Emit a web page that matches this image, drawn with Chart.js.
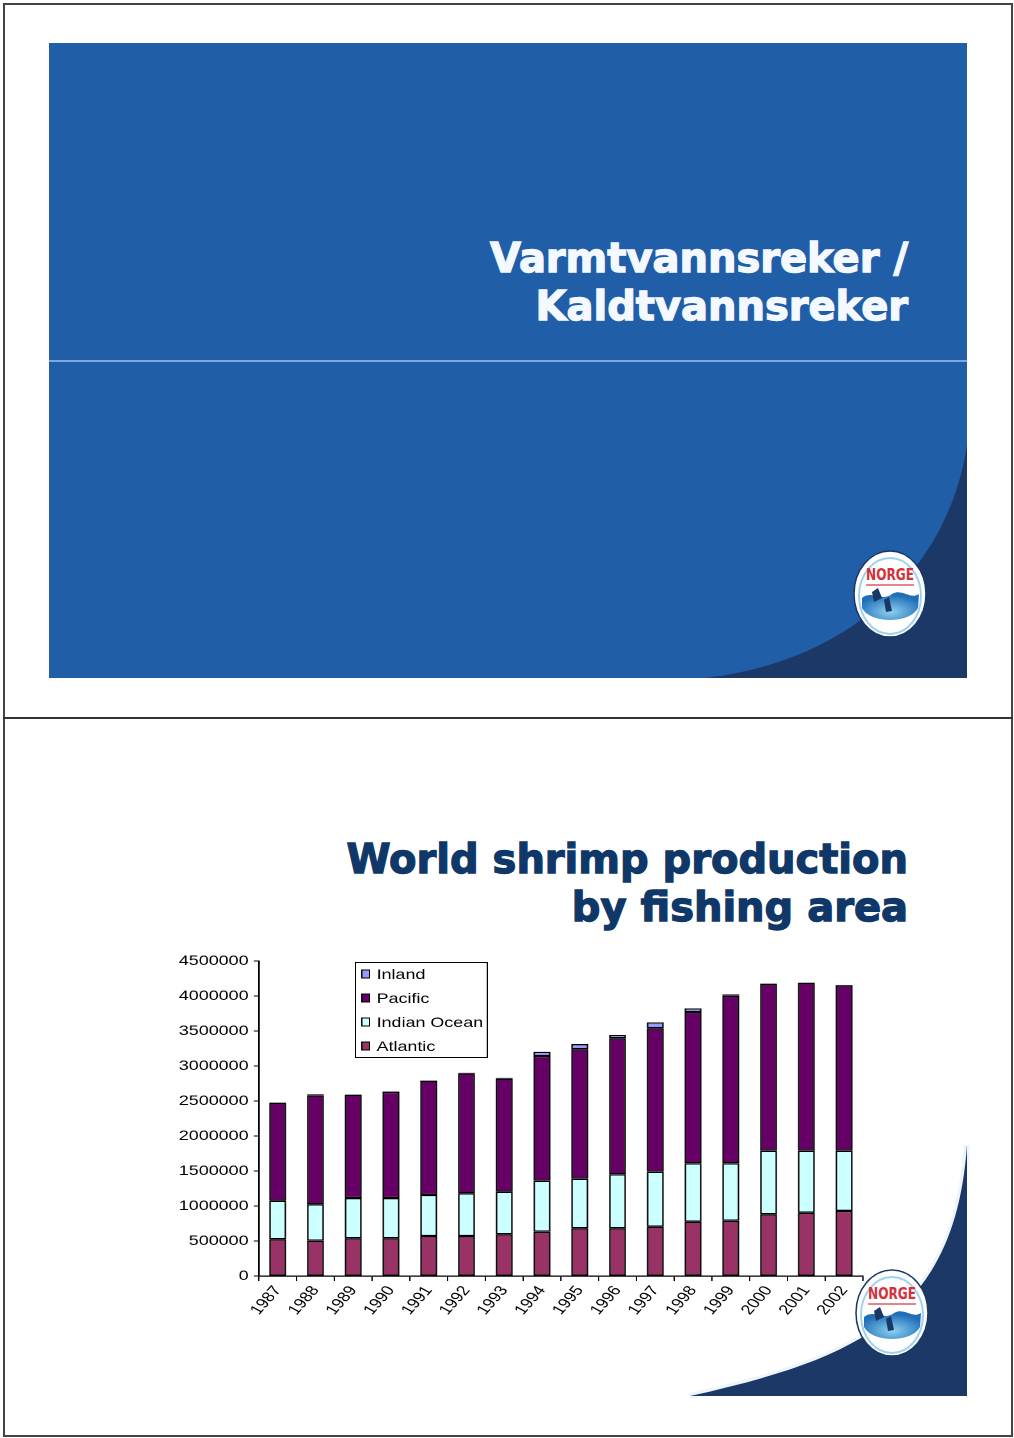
<!DOCTYPE html>
<html>
<head>
<meta charset="utf-8">
<script src="https://cdn.jsdelivr.net/npm/chart.js@4/dist/chart.umd.min.js"></script>
<style>
  html, body { margin: 0; padding: 0; background: #fff; }
  #page { position: relative; width: 1014px; height: 1438px; overflow: hidden; background: #fff; }
  .frame { position: absolute; left: 3px; top: 3px; width: 1006px; height: 1430px; border: 2px solid #444; }
  .divider { position: absolute; left: 3px; top: 717px; width: 1010px; height: 2px; background: #333; }
  .slide1 { position: absolute; left: 49px; top: 43px; width: 918px; height: 635px; background: #215ea8; overflow: hidden; }
  .rule { position: absolute; left: 49px; top: 360px; width: 918px; height: 2px; background: #7ea6e6; }
  .title { position: absolute; right: 106px; font-family: "DejaVu Sans", sans-serif; font-weight: bold; font-size: 40px; line-height: 48px; text-align: right; white-space: nowrap; -webkit-text-stroke: 1.3px currentColor; }
  #t1 { top: 234px; color: #f4f8ff; }
  #t2 { top: 835px; color: #0f3768; }
  svg.deco { position: absolute; left: 0; top: 0; }
  #chartBox { position: absolute; left: 150px; top: 940px; width: 570px; height: 396px; transform: scaleX(1.28); transform-origin: 0 0; }
</style>
</head>
<body>
<div id="page">
  <div class="slide1"></div>
  <svg class="deco" width="1014" height="1438">
    <defs>
      <radialGradient id="sea" cx="0.5" cy="0.7" r="0.6">
        <stop offset="0" stop-color="#8fd0f0"/>
        <stop offset="1" stop-color="#1f6fb8"/>
      </radialGradient>
      <g id="logo">
        <ellipse cx="0" cy="0" rx="36" ry="43" fill="#fff" stroke="#1b3766" stroke-width="1.5"/>
        <ellipse cx="0" cy="2" rx="31" ry="38" fill="none" stroke="#9fd2ee" stroke-width="2"/>
        <text x="0" y="-14" text-anchor="middle" font-family="DejaVu Sans Condensed, DejaVu Sans" font-weight="bold" font-size="15" fill="#d3323c" textLength="48" lengthAdjust="spacingAndGlyphs">NORGE</text>
        <rect x="-24" y="-10" width="48" height="2" fill="#d3323c" opacity="0.6"/>
        <path d="M-28,4 C-18,-4 -8,8 2,0 C12,-6 20,6 29,0 L28,14 C20,30 -20,30 -28,14 Z" fill="url(#sea)"/>
        <path d="M-18,-2 l6,-4 l4,10 l-8,4 Z" fill="#1b3766"/>
        <path d="M-6,6 l5,-3 l3,14 l-6,1 Z" fill="#1b3766"/>
      </g>
    </defs>
    <!-- dark corner of the first slide -->
    <path d="M705,678 C860,660 950,560 967,445 L967,678 Z" fill="#1c3866"/>
    <!-- corner of the second slide -->
    <path d="M690,1396 C850,1360 955,1320 967,1145" fill="none" stroke="#dce9f6" stroke-width="6" opacity="0.5"/>
    <path d="M690,1396 C850,1360 955,1320 967,1145 L967,1396 Z" fill="#1c3866"/>
    <use href="#logo" x="890" y="594"/>
    <use href="#logo" x="892" y="1313"/>
  </svg>
  <div class="rule"></div>
  <div class="title" id="t1">Varmtvannsreker /<br>Kaldtvannsreker</div>
  <div class="title" id="t2">World shrimp production<br>by fishing area</div>
  <div class="frame"></div>
  <div class="divider"></div>
  <div id="chartBox"><canvas id="shrimp"></canvas></div>
</div>

<script>
const years = ['1987', '1988', '1989', '1990', '1991', '1992', '1993', '1994',
  '1995', '1996', '1997', '1998', '1999', '2000', '2001', '2002'];

// tonnes per year and fishing area
const atlantic = [524000, 504000, 538000, 538000, 571000, 571000, 595000, 633000,
  681000, 681000, 705000, 776000, 790000, 881000, 905000, 929000];
const indianOcean = [552000, 520000, 576000, 576000, 586000, 610000, 610000, 728000,
  709000, 772000, 785000, 834000, 820000, 909000, 885000, 861000];
const pacific = [1400000, 1558000, 1476000, 1516000, 1633000, 1717000, 1613000, 1782000,
  1848000, 1942000, 2048000, 2161000, 2394000, 2386000, 2400000, 2362000];
const inland = [5000, 14000, 6000, 9000, 6000, 6000, 15000, 61000,
  76000, 48000, 86000, 53000, 20000, 5000, 5000, 5000];

const yMax = 4500000;
const yStep = 500000;

const font = { family: '"Liberation Sans", Arial, sans-serif', size: 14 };

// boxed legend drawn inside the plot, top item first
const boxLegend = {
  id: 'boxLegend',
  afterDraw(chart) {
    const ctx = chart.ctx;
    const x = 160, y = 22, w = 103, h = 95;
    ctx.save();
    ctx.fillStyle = '#fff';
    ctx.fillRect(x, y, w, h);
    ctx.strokeStyle = '#000';
    ctx.lineWidth = 1;
    ctx.strokeRect(x + 0.5, y + 0.5, w, h);
    ctx.font = font.size + 'px ' + font.family;
    ctx.textBaseline = 'middle';
    const items = chart.data.datasets.slice().reverse();
    items.forEach((ds, i) => {
      const cy = y + 12 + i * 24;
      ctx.fillStyle = ds.backgroundColor;
      ctx.fillRect(x + 5, cy - 4.5, 7, 9);
      ctx.strokeRect(x + 5.5, cy - 4, 6, 8);
      ctx.fillStyle = '#000';
      ctx.fillText(ds.label, x + 17, cy + 1);
    });
    ctx.restore();
  }
};

function bars(label, data, color) {
  return {
    label: label,
    data: data,
    backgroundColor: color,
    borderColor: '#000',
    borderWidth: 1.3,
    borderSkipped: false,
    barPercentage: 0.45,
    categoryPercentage: 1
  };
}

new Chart(document.getElementById('shrimp'), {
  type: 'bar',
  data: {
    labels: years,
    datasets: [
      bars('Atlantic', atlantic, '#993366'),
      bars('Indian Ocean', indianOcean, '#ccffff'),
      bars('Pacific', pacific, '#660066'),
      bars('Inland', inland, '#9999ff')
    ]
  },
  options: {
    responsive: true,
    maintainAspectRatio: false,
    devicePixelRatio: 2,
    animation: false,
    layout: { padding: { top: 21, right: 13, left: 0, bottom: 0 } },
    plugins: { legend: { display: false }, tooltip: { enabled: false } },
    scales: {
      x: {
        stacked: true,
        offset: true,
        grid: { offset: true, drawOnChartArea: false, drawTicks: true, tickLength: 5, color: '#000' },
        border: { color: '#000', width: 1.3 },
        ticks: { color: '#000', font: font, minRotation: 55, maxRotation: 55, autoSkip: false, padding: 2 },
        afterFit(scale) { scale.height = 60; }
      },
      y: {
        stacked: true,
        min: 0,
        max: yMax,
        grid: { drawOnChartArea: false, drawTicks: true, tickLength: 4, color: '#000' },
        border: { color: '#000', width: 1.3 },
        ticks: { stepSize: yStep, color: '#000', font: font, padding: 4, callback: v => String(v) },
        afterFit(scale) { scale.width = 85; }
      }
    }
  },
  plugins: [boxLegend]
});
</script>
</body>
</html>
